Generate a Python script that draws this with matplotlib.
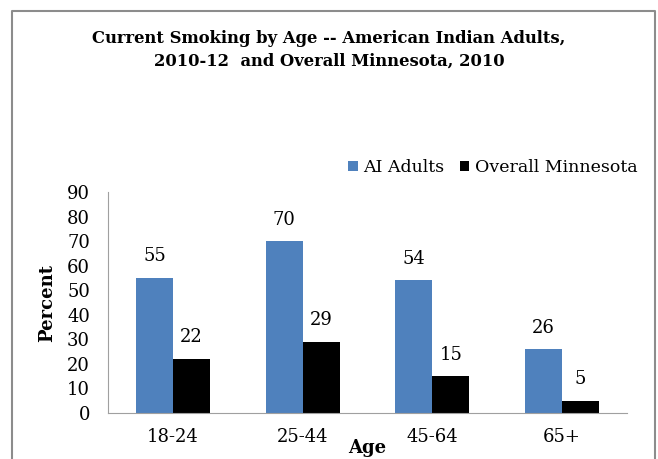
import numpy as np
import matplotlib
matplotlib.use('Agg')
import matplotlib.pyplot as plt
from matplotlib.lines import Line2D

ages = ['18-24', '25-44', '45-64', '65+']
ai_adults = [55, 70, 54, 26]
overall_mn = [22, 29, 15, 5]
yticks = [0, 10, 20, 30, 40, 50, 60, 70, 80, 90]

plt.rcParams['font.family'] = ['DejaVu Serif']

fig = plt.figure(figsize=(6.58, 4.59), dpi=100)
ax = fig.add_axes([108 / 658, 1 - 413 / 459, 519 / 658, 221 / 459])

x = np.arange(len(ages))
w = 0.285
b1 = ax.bar(x - w / 2, ai_adults, w, color='#4f81bd', label='AI Adults')
b2 = ax.bar(x + w / 2, overall_mn, w, color='black', label='Overall Minnesota')

for bars in (b1, b2):
    for r in bars:
        ax.annotate(f'{r.get_height():g}', (r.get_x() + r.get_width() / 2, r.get_height()),
                    xytext=(0, 9), textcoords='offset points', ha='center', va='bottom', fontsize=13)

ax.set_xlim(-0.5, len(ages) - 0.5)
ax.set_ylim(0, 90)
ax.set_yticks(yticks)
ax.set_xticks(x)
ax.set_xticklabels(ages)
ax.tick_params(length=0, labelsize=13)
ax.tick_params(axis='x', pad=11)
ax.tick_params(axis='y', pad=13)
for s in ['top', 'right']:
    ax.spines[s].set_visible(False)
for s in ['left', 'bottom']:
    ax.spines[s].set_color('#a0a0a0')
ax.set_ylabel('Percent', fontsize=13, fontweight='bold', labelpad=8)
ax.set_xlabel('Age', fontsize=13, fontweight='bold', labelpad=-5)

ax.legend(loc='lower right', bbox_to_anchor=(1.05, 1.0), ncol=2, frameon=False, fontsize=12.5,
          handlelength=0.55, handleheight=0.55, handletextpad=0.3, columnspacing=0.9)

fig.text(0.5, 1 - 50 / 459, 'Current Smoking by Age -- American Indian Adults,\n2010-12  and Overall Minnesota, 2010',
         ha='center', va='center', fontsize=11.8, fontweight='bold', linespacing=1.45)

# chart frame
fig.add_artist(Line2D([12 / 658, 12 / 658, 655 / 658, 655 / 658], [0, 1 - 11 / 459, 1 - 11 / 459, 0],
                      transform=fig.transFigure, color='#8c8c8c', lw=1.5))

fig.savefig('out.png', dpi=100)
